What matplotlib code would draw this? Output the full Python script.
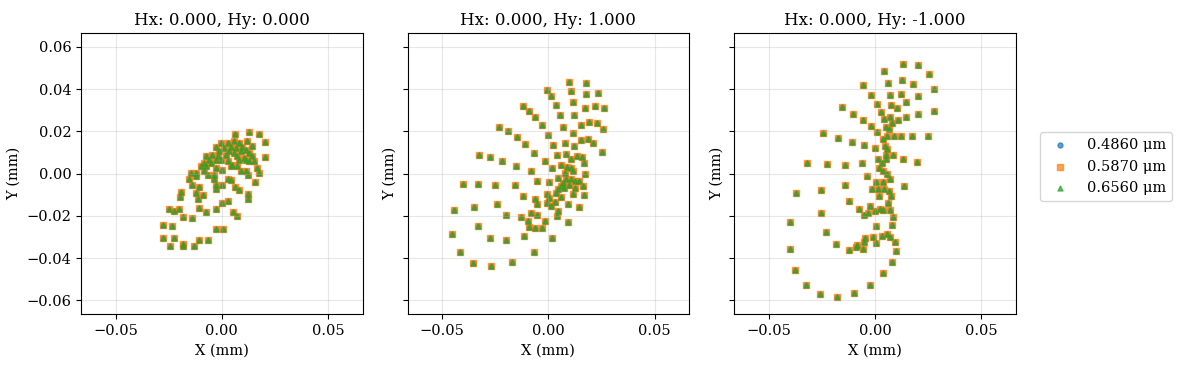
import matplotlib.pyplot as plt

# spot diagram data (mm), same spots for all three wavelengths
wavelengths = [0.4860, 0.5870, 0.6560]
field_titles = ['Hx: 0.000, Hy: 0.000', 'Hx: 0.000, Hy: 1.000', 'Hx: 0.000, Hy: -1.000']

x_f1 = [6.3, 12.8, 17.5, 20.3, 20.3, -0.5, 2.7, 5.8, 8.1, 12.0, 14.4, 1.1, 4.2, 6.6, 9.7, 3.4, 5.8, 8.9, 11.3, 12.8,
        1.9, 7.3, 10.5, 14.4, -2.8, -1.3, -4.4, -2.0, -7.5, -5.9, -8.3, -5.2, -2.8, -0.5, 2.7, 5.0, 8.1, 11.3, 12.8, 15.2,
        16.7, 17.5, -9.8, -7.5, -2.8, 0.3, 4.2, 7.3, 8.9, 11.3, 12.3, 15.6, -14.5, -12.2, -8.3, -6.7, -3.6, -15.3, -12.2, -3.6,
        -2.8, 0.0, 2.7, 4.2, 6.3, 8.1, 12.3, 12.5, -13.8, -10.9, -19.2, -19.5, -12.2, -11.4, -8.8, -2.8, 0.0, 3.0, -10.9, -7.5,
        -2.5, 5.3, 7.3, -24.7, -22.7, -20.3, -18.4, -13.8, -27.5, -23.4, -2.8, 0.8, -27.5, -22.3, -10.9, -6.3, -24.2, -18.4, -18.4, -13.0]
y_f1 = [18.6, 19.8, 18.6, 14.8, 7.8, 14.4, 14.4, 15.2, 14.4, 15.2, 13.1, 12.0, 12.8, 12.0, 12.5, 10.5, 9.7, 10.5, 11.3, 9.7,
        8.9, 8.1, 7.3, 8.1, 12.8, 10.5, 8.9, 8.1, 8.1, 6.6, 5.0, 5.0, 6.6, 6.6, 5.8, 4.2, 6.6, 6.6, 5.8, 5.8,
        2.7, 0.3, 3.4, 3.4, 2.7, 1.9, 3.4, 3.4, 1.1, 1.1, -0.8, -4.1, 0.3, 0.3, 1.1, -0.5, -0.5, -2.8, -1.3, -2.5,
        -5.2, -5.2, -2.8, -3.1, -6.3, -7.8, -9.8, -11.9, -5.6, -6.3, -8.8, -10.9, -9.4, -11.9, -10.2, -7.5, -13.8, -13.1, -16.1, -18.1,
        -16.9, -18.4, -20.0, -16.9, -17.7, -16.9, -20.8, -21.1, -24.4, -25.0, -26.3, -26.3, -30.6, -30.6, -31.7, -31.4, -34.4, -33.3, -34.4, -34.1]

x_f2 = [9.8, 17.8, -0.5, 10.8, 17.8, 23.4, 1.4, 11.7, -12.2, 3.8, 22.0, 17.2, 26.1, -9.1, -6.3, 5.6, 12.0, 19.1, 23.0, 15.5,
        -2.8, 7.0, 25.6, -23.1, -19.2, 11.7, 0.0, -15.0, 15.5, 18.8, 21.1, -10.8, 2.3, 8.0, 12.2, 25.3, -32.8, -27.7, -22.0, -15.5,
        -6.6, 4.1, 8.3, -1.4, 10.8, 13.6, 15.8, 16.9, 6.1, 8.9, 10.8, 1.9, -8.0, 17.3, 7.8, 11.7, 4.7, 0.5, -5.2, -40.3,
        -33.3, -25.3, -15.9, 8.3, 10.5, 12.3, 14.2, 6.9, 9.7, 5.8, 7.5, 4.7, 12.3, 16.4, 3.4, 6.1, 11.6, 16.9, -12.2, -0.5,
        0.3, -6.1, -5.2, -24.4, -0.5, 1.4, 3.1, 9.4, 14.5, -35.2, -44.7, -20.2, -8.4, -5.6, -13.1, 4.7, 4.2, -9.8, -1.4, 9.4,
        -9.1, -6.1, -2.8, -33.3, -45.2, -27.7, -20.2, -11.3, 1.9, -41.7, -7.0, -35.6, -27.2, -17.3]
y_f2 = [43.3, 42.8, 39.7, 39.1, 37.8, 38.1, 36.7, 33.9, 32.2, 32.5, 32.2, 30.8, 30.8, 29.7, 26.6, 27.5, 27.7, 24.5, 24.1, 22.8,
        22.8, 21.9, 20.9, 21.9, 20.0, 19.1, 18.1, 17.2, 15.8, 16.3, 14.4, 13.9, 13.4, 14.4, 13.0, 10.2, 8.8, 7.8, 5.9, 3.6,
        9.7, 8.8, 9.2, 5.9, 6.9, 8.3, 7.7, 5.0, 4.1, 3.1, 2.5, 2.7, 1.4, -0.3, 0.3, 1.1, -2.0, -3.9, -3.4, -4.8,
        -4.8, -5.3, -5.3, -2.8, -2.8, -3.3, -3.3, -4.4, -5.2, -5.9, -6.7, -7.5, -6.7, -5.8, -9.1, -10.9, -9.8, -10.0, -10.5, -9.7,
        -11.4, -11.9, -14.2, -14.2, -13.8, -15.3, -13.4, -14.2, -15.9, -15.9, -17.5, -19.5, -18.9, -19.4, -20.8, -17.7, -20.0, -22.7, -22.7, -23.1,
        -25.2, -25.6, -25.6, -25.0, -28.8, -30.3, -31.7, -29.7, -30.6, -37.2, -37.2, -42.3, -43.8, -41.9]

x_f3 = [13.2, 20.3, 4.2, 25.5, 12.7, 6.1, 17.9, -5.7, 27.8, -1.9, 7.1, 12.3, 20.3, 14.6, 0.9, 7.5, 10.4, -15.6, -10.4, 2.8,
        7.1, 14.6, 20.3, 27.8, -5.7, 4.2, 8.0, 10.8, -1.9, 5.2, 6.6, 0.9, -24.5, -17.5, -10.8, -5.2, 0.0, 3.8, 5.7, 9.0,
        12.3, 17.5, 25.0, 4.7, 5.7, 5.2, 8.5, 13.2, 19.8, -32.1, -22.6, -14.2, -6.1, 1.4, 3.3, 5.3, 1.9, 3.8, 5.7, 7.2,
        -3.8, -14.2, 0.2, 3.8, 13.5, -37.3, -25.5, -1.4, 1.4, 4.2, 6.6, 7.5, 1.9, -12.3, 6.1, -7.5, -2.4, 0.0, 2.4, 3.8,
        6.9, 8.5, -5.2, -3.3, -25.5, -40.1, 0.5, 8.0, -23.1, -0.9, 3.3, 5.7, 6.9, 9.4, -4.7, -5.2, 0.5, -18.4, -8.5, -8.9,
        -5.7, -12.3, -40.1, 9.9, 8.0, -37.7, 3.8, -32.5, -2.4, -25.9, -17.9, -9.9]
y_f3 = [52.0, 51.6, 48.6, 47.3, 44.5, 42.7, 42.2, 41.7, 39.8, 37.2, 37.2, 37.5, 36.7, 33.8, 33.0, 32.5, 30.9, 31.4, 28.1, 29.1,
        27.0, 26.7, 28.1, 29.5, 25.5, 25.9, 23.9, 25.3, 22.5, 22.0, 21.3, 19.7, 19.2, 16.9, 15.0, 13.6, 12.2, 16.4, 17.7, 17.8,
        17.8, 17.8, 17.8, 13.0, 11.4, 8.6, 8.9, 7.0, 5.6, 5.0, 4.7, 4.1, 5.0, 7.0, 5.2, 6.7, 2.5, 1.3, -0.3, -2.7,
        -1.4, -5.2, -4.2, -4.2, -6.1, -9.4, -8.0, -7.3, -7.3, -7.3, -8.1, -10.8, -10.8, -12.8, -14.1, -16.9, -15.6, -17.8, -16.9, -17.5,
        -17.2, -20.6, -19.7, -18.9, -18.8, -23.0, -24.8, -24.4, -27.7, -30.0, -29.5, -28.6, -30.0, -32.3, -30.5, -32.3, -32.7, -33.3, -33.9, -34.7,
        -35.6, -36.1, -35.6, -36.6, -41.7, -45.5, -47.3, -53.0, -53.0, -57.2, -58.6, -56.7]

fields = [(x_f1, y_f1), (x_f2, y_f2), (x_f3, y_f3)]
markers = ['o', 's', '^']
colors = ['tab:blue', 'tab:orange', 'tab:green']

plt.rcParams['font.family'] = ['DejaVu Serif']
plt.rcParams['font.size'] = 10.5

fig, axes = plt.subplots(1, 3, figsize=(11.84, 3.72), dpi=100, sharey=True)
fig.subplots_adjust(left=0.0684, right=0.858, bottom=0.156, top=0.911, wspace=0.16)

for ax, (xs, ys), title in zip(axes, fields, field_titles):
    xm = [v / 1000 for v in xs]
    ym = [v / 1000 for v in ys]
    for wl, mk, c in zip(wavelengths, markers, colors):
        ax.scatter(xm, ym, s=13, marker=mk, color=c, alpha=0.7, label=f'{wl:.4f} \u03bcm')
    ax.set_xlim(-0.0663, 0.0663)
    ax.set_ylim(-0.0665, 0.0665)
    ax.set_xticks([-0.05, 0.0, 0.05])
    ax.set_title(title, fontsize=12)
    ax.set_xlabel('X (mm)')
    ax.set_ylabel('Y (mm)')
    ax.grid(True, alpha=0.3)

axes[2].legend(loc='center left', bbox_to_anchor=(1.06, 0.525))
fig.savefig('out.png', dpi=100)
